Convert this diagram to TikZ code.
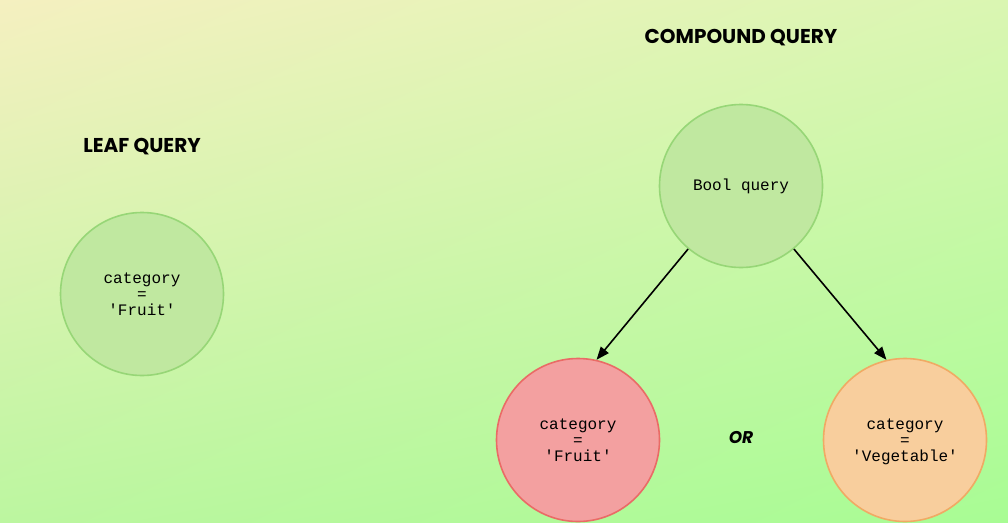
\documentclass[tikz,border=0pt]{standalone}
\usepackage{fontspec}
\setmonofont{Liberation Mono}
\newfontfamily\titlefont{Poppins}
\usetikzlibrary{positioning,arrows.meta,shadings}

\definecolor{bgtl}{RGB}{245,240,192}
\definecolor{bgtr}{RGB}{218,246,178}
\definecolor{bgbl}{RGB}{188,246,160}
\definecolor{bgbr}{RGB}{168,252,148}
\definecolor{greenfill}{RGB}{192,232,160}
\definecolor{greenline}{RGB}{151,214,119}
\definecolor{redfill}{RGB}{243,160,160}
\definecolor{redline}{RGB}{234,107,102}
\definecolor{orangefill}{RGB}{248,206,157}
\definecolor{orangeline}{RGB}{240,170,100}

\tikzstyle{title} = [font=\titlefont\bfseries\fontsize{20}{20}\selectfont, inner sep=0pt]
\tikzstyle{query} = [circle, minimum size=163pt, inner sep=0pt, line width=1.6pt, align=center, font=\ttfamily\fontsize{16}{16}\selectfont]
\tikzstyle{leaf} = [query, draw=greenline, fill=greenfill]
\tikzstyle{fruit} = [query, draw=redline, fill=redfill]
\tikzstyle{veg} = [query, draw=orangeline, fill=orangefill]
\tikzstyle{arrow} = [line width=1.6pt, -{Triangle[length=13pt,width=10pt]}]

\begin{document}
\begin{tikzpicture}[x=1pt, y=1pt, node distance=254pt]
        \shade[upper left=bgtl, upper right=bgtr, lower left=bgbl, lower right=bgbr] (0,0) rectangle (1008,-522);
        \useasboundingbox (0,0) rectangle (1008,-522);

        \node (Leaf Title) [title] at (142,-147) {LEAF QUERY};
        \node (Leaf) [leaf] at (142,-294) {category\\=\\'Fruit'};

        \node (Compound Title) [title] at (741,-38) {COMPOUND QUERY};
        \node (Bool) [leaf] at (741,-186) {Bool query};
        \node (Fruit) [fruit, below of = Bool, xshift = -163pt] {category\\=\\'Fruit'};
        \node (Vegetable) [veg, below of = Bool, xshift = 164pt] {category\\=\\\smash{'Vegetable'}};
        \node (Or) [title, font=\titlefont\bfseries\itshape\fontsize{17}{17}\selectfont] at (741,-438) {OR};

        \draw [arrow] (Bool.230) -- (Fruit.77);
        \draw [arrow] (Bool.310) -- (Vegetable.103);
    \end{tikzpicture}
\end{document}
